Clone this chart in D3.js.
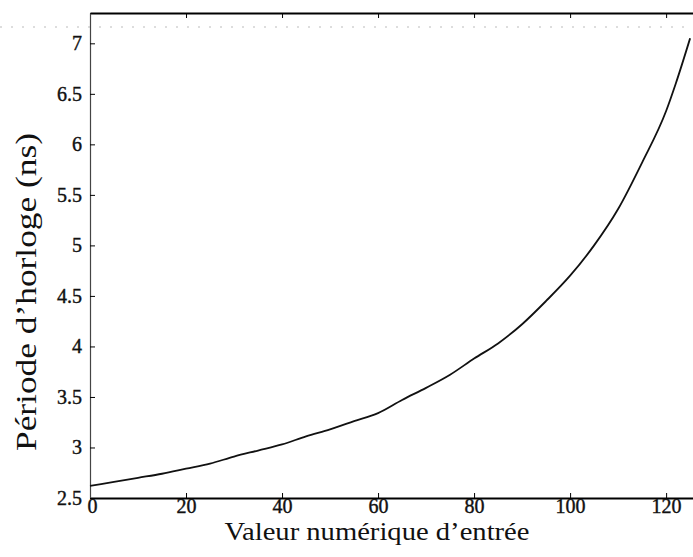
<!DOCTYPE html>
<html>
<head>
<meta charset="utf-8">
<script src="https://cdn.jsdelivr.net/npm/d3@7"></script>
<style>
  body { margin: 0; background: #fff; }
  svg { display: block; }
  text { font-family: "Liberation Serif", "Times New Roman", serif; }
</style>
</head>
<body>
<script>
// values
const inputValues = [0, 5, 10, 15, 20, 25, 30, 35, 40, 45, 50, 55, 60, 65, 70, 75, 80, 85, 90, 95, 100, 105, 110, 115, 120, 122, 125];
const clockPeriod = [2.62, 2.66, 2.70, 2.74, 2.79, 2.84, 2.91, 2.97, 3.03, 3.11, 3.18, 3.26, 3.34, 3.47, 3.59, 3.72, 3.88, 4.03, 4.22, 4.45, 4.70, 5.00, 5.36, 5.82, 6.33, 6.60, 7.05];
const xTicks = [0, 20, 40, 60, 80, 100, 120];
const yTicks = [2.5, 3, 3.5, 4, 4.5, 5, 5.5, 6, 6.5, 7];

var width = 693;
var height = 557;
var margin = { top: 13, right: 0, bottom: 59, left: 90 };

const data = inputValues.map((x, i) => ({ x: x, y: clockPeriod[i] }));

var x = d3.scaleLinear()
  .domain([0, 125.6])
  .range([margin.left, width - margin.right]);

var y = d3.scaleLinear()
  .domain([2.5, 7.3])
  .range([height - margin.bottom, margin.top]);

var svg = d3.select("body")
  .append("svg")
  .attr("width", width)
  .attr("height", height)
  .attr("viewBox", [0, 0, width, height]);

// faint scan line near the top
svg.append("line")
  .attr("x1", 0)
  .attr("x2", width)
  .attr("y1", 27)
  .attr("y2", 27)
  .attr("stroke", "#bbb")
  .attr("stroke-width", 1)
  .attr("stroke-dasharray", "2,9");

const serif = "Liberation Serif, Times New Roman, serif";

// bottom axis, ticks pointing up
const xAxis = svg.append("g")
  .attr("transform", `translate(0,${y(2.5)})`)
  .call(d3.axisBottom(x).tickValues(xTicks).tickSize(-5).tickSizeOuter(0).tickPadding(1).tickFormat(d3.format("d")));
xAxis.select(".domain").attr("stroke-width", 2);

// top axis, ticks pointing down, no labels
const topAxis = svg.append("g")
  .attr("transform", `translate(0,${y(7.3)})`)
  .call(d3.axisTop(x).tickValues(xTicks).tickSize(-5).tickSizeOuter(0).tickFormat(""));
topAxis.select(".domain").attr("stroke-width", 2);

// left axis, ticks pointing right
const yAxis = svg.append("g")
  .attr("transform", `translate(${x(0)},0)`)
  .call(d3.axisLeft(y).tickValues(yTicks).tickSize(-5).tickSizeOuter(0).tickPadding(8).tickFormat(d3.format("")));
yAxis.select(".domain").attr("stroke", "#444").attr("stroke-width", 1.2);

svg.selectAll("g").attr("font-family", serif).attr("font-size", 20);

svg.selectAll(".tick text")
  .attr("fill", "#111")
  .attr("stroke", "#111")
  .attr("stroke-width", 0.4);

// the first x label sits just right of the corner, like the scan
xAxis.selectAll(".tick text")
  .filter((d) => d === 0)
  .attr("dx", 2);

// the curve
svg.append("path")
  .datum(data)
  .attr("fill", "none")
  .attr("stroke", "#111")
  .attr("stroke-width", 1.8)
  .attr("stroke-linejoin", "round")
  .attr("d", d3.line().x((d) => x(d.x)).y((d) => y(d.y)).curve(d3.curveMonotoneX));

// axis titles
svg.append("text")
  .attr("x", 377)
  .attr("y", 540)
  .attr("text-anchor", "middle")
  .attr("textLength", 305)
  .attr("lengthAdjust", "spacingAndGlyphs")
  .attr("font-family", serif)
  .attr("font-size", 26)
  .attr("fill", "#111")
  .text("Valeur numérique d’entrée");

svg.append("text")
  .attr("transform", "translate(36,292) rotate(-90)")
  .attr("text-anchor", "middle")
  .attr("textLength", 318)
  .attr("lengthAdjust", "spacingAndGlyphs")
  .attr("font-family", serif)
  .attr("font-size", 29)
  .attr("fill", "#111")
  .text("Période d’horloge (ns)");
</script>
</body>
</html>
